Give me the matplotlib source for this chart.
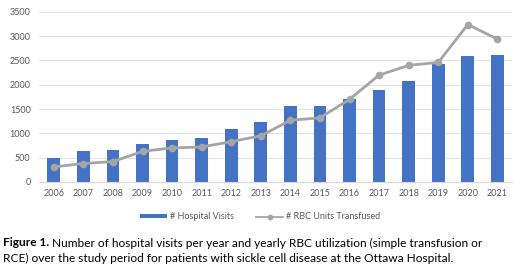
import matplotlib
matplotlib.use("Agg")
import matplotlib.pyplot as plt
import numpy as np

years = ["2006", "2007", "2008", "2009", "2010", "2011", "2012", "2013",
         "2014", "2015", "2016", "2017", "2018", "2019", "2020", "2021"]
hospital_visits = [500, 640, 650, 790, 860, 910, 1100, 1230,
                   1560, 1560, 1700, 1890, 2080, 2420, 2590, 2610]
rbc_units = [310, 380, 420, 630, 700, 720, 830, 950,
             1270, 1320, 1700, 2200, 2400, 2460, 3240, 2940]
yticks = [0, 500, 1000, 1500, 2000, 2500, 3000, 3500]

plt.rcParams['font.family'] = ['Lato', 'DejaVu Sans']

fig = plt.figure(figsize=(5.2, 2.7), dpi=100)
ax = fig.add_axes([0.075, 0.326, 0.910, 0.630])
x = np.arange(len(years))
bars = ax.bar(x, hospital_visits, width=0.43, color="#4472C4", label="# Hospital Visits", zorder=2)
line, = ax.plot(x, rbc_units, color="#A5A5A5", lw=2, marker="o", ms=4.5,
                label="# RBC Units Transfused", zorder=3)
ax.set_xlim(-0.5, len(years) - 0.5)
ax.set_ylim(0, 3500)
ax.set_yticks(yticks)
ax.set_yticklabels([str(v) for v in yticks])
ax.set_xticks(x)
ax.set_xticklabels(years)
ax.grid(axis="y", color="#E3E3E3", lw=0.8, zorder=0)
for s in ["top", "right", "left"]:
    ax.spines[s].set_visible(False)
ax.spines["bottom"].set_color("#D9D9D9")
ax.tick_params(axis="both", length=0, labelsize=6.5, colors="#595959", pad=6)
ax.tick_params(axis="x", pad=5)

leg = fig.legend([bars, line], ["# Hospital Visits", "# RBC Units Transfused"],
                 loc="center", bbox_to_anchor=(0.5, 0.197), ncol=2, frameon=False,
                 fontsize=6.5, handlelength=3.0, handleheight=0.4, markerscale=0.7,
                 columnspacing=2.5, handletextpad=0.3)
for t in leg.get_texts():
    t.set_color("#595959")
leg.get_lines()[0].set_linewidth(1.3)

fig.canvas.draw()
r = fig.canvas.get_renderer()
t1 = fig.text(0.006, 0.1, "Figure 1.", fontsize=8.6, fontweight="bold",
              color="black", va="center")
bb = t1.get_window_extent(renderer=r)
x2 = (bb.x1 + 3) / fig.bbox.width
fig.text(x2, 0.1,
         "Number of hospital visits per year and yearly RBC utilization (simple transfusion or",
         fontsize=8.6, color="black", va="center")
fig.text(0.006, 0.041,
         "RCE) over the study period for patients with sickle cell disease at the Ottawa Hospital.",
         fontsize=8.6, color="black", va="center")

fig.savefig("out.png", dpi=100)
